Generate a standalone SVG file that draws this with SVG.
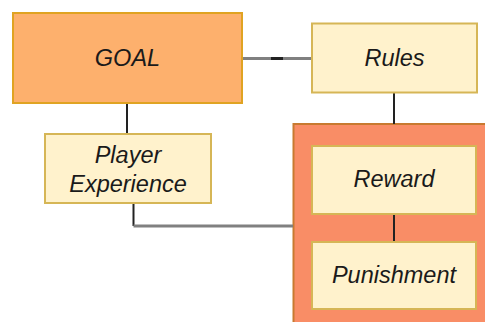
<svg xmlns="http://www.w3.org/2000/svg" width="485" height="322" viewBox="0 0 485 322">
<style>
.t{font-family:"Liberation Sans",Arial,sans-serif;font-style:italic;font-size:23.5px;fill:#1a1a1a;text-anchor:middle}
.y{fill:#FFF2CC;stroke:#D6B656;stroke-width:2}
.c{fill:none;stroke:#222;stroke-width:2}
.g{fill:none;stroke:#808080;stroke-width:3}
</style>
<rect width="485" height="322" fill="#fff"/>
<g id="container">
<rect x="293.5" y="124" width="200" height="210" fill="#F98D66" stroke="#C87A30" stroke-width="2"/>
</g>
<g id="connectors">
<line class="g" x1="242" y1="58.5" x2="312" y2="58.5"/>
<line x1="271" y1="58.5" x2="283" y2="58.5" stroke="#222" stroke-width="3"/>
<line class="c" x1="127" y1="103" x2="127" y2="134"/>
<line class="c" x1="394" y1="93" x2="394" y2="124"/>
<line class="c" x1="394" y1="214" x2="394" y2="242"/>
<polyline class="c" points="133.5,203 133.5,226"/>
<polyline class="g" points="133.5,226 293,226"/>
</g>
<g id="goal">
<rect x="13" y="13" width="229" height="90" fill="#FDB06D" stroke="#E0A322" stroke-width="2"/>
<text class="t" x="127.5" y="66">GOAL</text>
</g>
<g id="rules">
<rect class="y" x="312" y="23.5" width="165" height="69"/>
<text class="t" x="394.5" y="66">Rules</text>
</g>
<g id="player">
<rect class="y" x="45" y="134" width="166" height="69"/>
<text class="t" x="128" y="163">Player</text>
<text class="t" x="128" y="192">Experience</text>
</g>
<g id="reward">
<rect class="y" x="312" y="146" width="164" height="68"/>
<text class="t" x="394" y="187">Reward</text>
</g>
<g id="punishment">
<rect class="y" x="312" y="242" width="164" height="67"/>
<text class="t" x="394" y="283">Punishment</text>
</g>
</svg>
